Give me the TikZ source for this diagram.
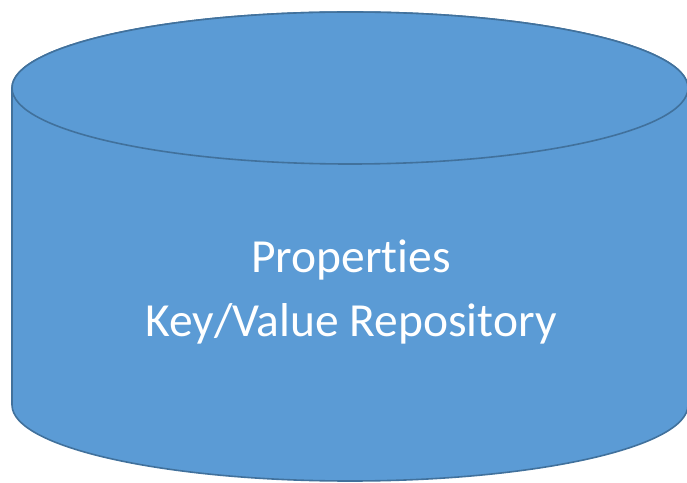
\documentclass[tikz,border=0pt]{standalone}
\usepackage{fontspec}
\setmainfont{Carlito}[Ligatures={NoCommon,NoRare,NoContextual}]
\usepackage{tikz}
\usetikzlibrary{positioning}
\definecolor{repofill}{HTML}{5B9BD5}
\definecolor{repoedge}{HTML}{41719C}
\tikzstyle{drum} = [draw=repoedge, fill=repofill, line width=1.6pt]
\tikzstyle{caption} = [text=white, align=center,
    font=\fontsize{47.5}{64}\selectfont]

\begin{document}
\begin{tikzpicture}[x=1pt, y=1pt]
  \useasboundingbox (0,0) rectangle (687,482);
  \clip (0,0) rectangle (687,482);
  % Cylinder body and top
  \draw [drum] (12,394) -- (12,77)
    arc [start angle=180, end angle=360, x radius=338, y radius=76]
    -- (688,394)
    arc [start angle=0, end angle=180, x radius=338, y radius=76] -- cycle;
  \draw [drum] (350,394) ellipse [x radius=338, y radius=76];
  % Place nodes
  \node [caption] (repo) at (351,190) {Properties\\Key/Value Repository};
\end{tikzpicture}
\end{document}
